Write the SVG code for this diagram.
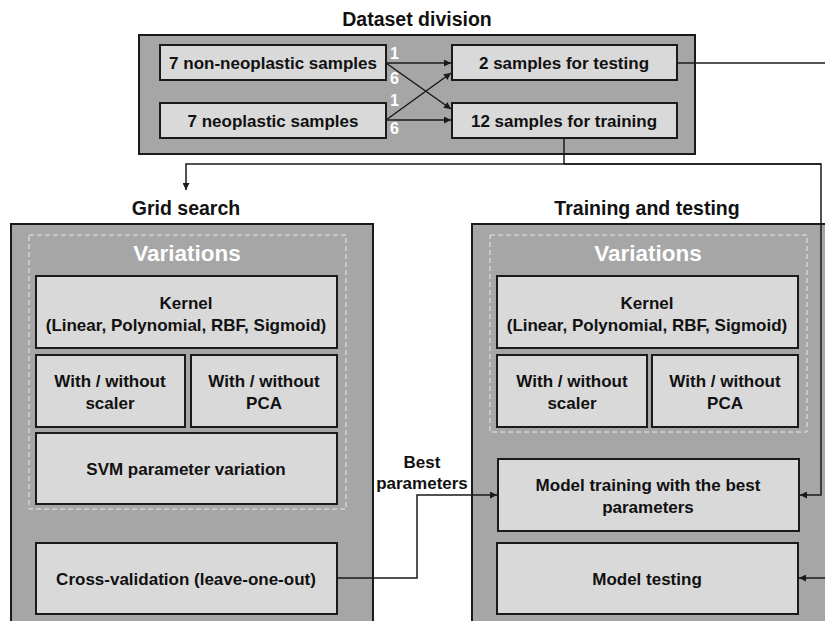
<svg xmlns="http://www.w3.org/2000/svg" width="825" height="621" viewBox="0 0 825 621">
<defs>
<style>
text{font-family:"Liberation Sans",Arial,sans-serif;font-weight:bold;fill:#111;text-anchor:middle}
.outer{fill:#a6a6a6;stroke:#1a1a1a;stroke-width:2}
.box{fill:#d9d9d9;stroke:#1a1a1a;stroke-width:2}
.dash{fill:none;stroke:#e8e8e8;stroke-width:1;stroke-dasharray:5,3}
.title{font-size:19.5px}
.lbl{font-size:17px}
.var{font-size:22.5px;fill:#fff}
.num{font-size:16px;fill:#fff;text-anchor:start}
.conn{fill:none;stroke:#1a1a1a;stroke-width:1.5}
</style>
<marker id="ah" viewBox="0 0 10 10" refX="10" refY="5" markerWidth="7" markerHeight="7" markerUnits="userSpaceOnUse" orient="auto">
<path d="M0,0 L10,5 L0,10 z" fill="#1a1a1a"/>
</marker>
</defs>
<rect width="825" height="621" fill="#fff"/>

<g id="dataset-division">
<text class="title" x="417" y="26">Dataset division</text>
<rect class="outer" x="139" y="35" width="556" height="119"/>
</g>
<g id="grid-search">
<text class="title" x="186" y="215">Grid search</text>
<rect class="outer" x="11" y="224" width="362" height="402"/>
<rect class="dash" x="29" y="235" width="317" height="274"/>
<text class="var" x="187" y="261">Variations</text>
</g>
<g id="training-testing">
<text class="title" x="647" y="215">Training and testing</text>
<rect class="outer" x="472" y="224" width="360" height="402"/>
<rect class="dash" x="490" y="235" width="317" height="197"/>
<text class="var" x="648" y="261">Variations</text>
</g>

<g id="n-nonneo"><rect class="box" x="160" y="45" width="226" height="35"/><text class="lbl" x="273" y="69">7 non-neoplastic samples</text></g>
<g id="n-neo"><rect class="box" x="160" y="103" width="226" height="35"/><text class="lbl" x="273" y="127">7 neoplastic samples</text></g>
<g id="n-test"><rect class="box" x="452" y="45" width="225" height="35"/><text class="lbl" x="564" y="69">2 samples for testing</text></g>
<g id="n-train"><rect class="box" x="452" y="103" width="225" height="35"/><text class="lbl" x="564" y="127">12 samples for training</text></g>

<g id="g-kernel"><rect class="box" x="36" y="276" width="301" height="72"/><text class="lbl" x="186" y="309">Kernel</text><text class="lbl" x="186" y="331">(Linear, Polynomial, RBF, Sigmoid)</text></g>
<g id="g-scaler"><rect class="box" x="36" y="355" width="149" height="72"/><text class="lbl" x="110" y="387">With / without</text><text class="lbl" x="110" y="409">scaler</text></g>
<g id="g-pca"><rect class="box" x="191" y="355" width="146" height="72"/><text class="lbl" x="264" y="387">With / without</text><text class="lbl" x="264" y="409">PCA</text></g>
<g id="g-svm"><rect class="box" x="36" y="433" width="301" height="71"/><text class="lbl" x="186" y="475">SVM parameter variation</text></g>
<g id="g-cv"><rect class="box" x="36" y="543" width="301" height="71"/><text class="lbl" x="186" y="585">Cross-validation (leave-one-out)</text></g>

<g id="t-kernel"><rect class="box" x="497" y="276" width="301" height="72"/><text class="lbl" x="647" y="309">Kernel</text><text class="lbl" x="647" y="331">(Linear, Polynomial, RBF, Sigmoid)</text></g>
<g id="t-scaler"><rect class="box" x="497" y="355" width="150" height="72"/><text class="lbl" x="572" y="387">With / without</text><text class="lbl" x="572" y="409">scaler</text></g>
<g id="t-pca"><rect class="box" x="652" y="355" width="146" height="72"/><text class="lbl" x="725" y="387">With / without</text><text class="lbl" x="725" y="409">PCA</text></g>
<g id="t-train"><rect class="box" x="498" y="459" width="301" height="72"/><text class="lbl" x="648" y="491">Model training with the best</text><text class="lbl" x="648" y="513">parameters</text></g>
<g id="t-test"><rect class="box" x="497" y="543" width="301" height="71"/><text class="lbl" x="647" y="585">Model testing</text></g>

<g id="connectors">
<path class="conn" d="M386,63 L451,63" marker-end="url(#ah)"/>
<path class="conn" d="M386,63 L451,109" marker-end="url(#ah)"/>
<path class="conn" d="M386,120 L451,73" marker-end="url(#ah)"/>
<path class="conn" d="M386,120 L451,120" marker-end="url(#ah)"/>
<path class="conn" d="M677,63 L826,63"/>
<path class="conn" d="M564,138 L564,164"/>
<path class="conn" d="M821,164 L186,164 L186,190" marker-end="url(#ah)"/>
<path class="conn" d="M564,164 L821,164 L821,495 L800,495" marker-end="url(#ah)"/>
<path class="conn" d="M826,578 L799,578" marker-end="url(#ah)"/>
<path class="conn" d="M337,578 L417,578 L417,495 L497,495" marker-end="url(#ah)"/>
<text class="num" x="390" y="59">1</text>
<text class="num" x="390" y="84">6</text>
<text class="num" x="390" y="106">1</text>
<text class="num" x="390" y="134">6</text>
<text class="lbl" x="422" y="468">Best</text>
<text class="lbl" x="422" y="489">parameters</text>
</g>
</svg>
